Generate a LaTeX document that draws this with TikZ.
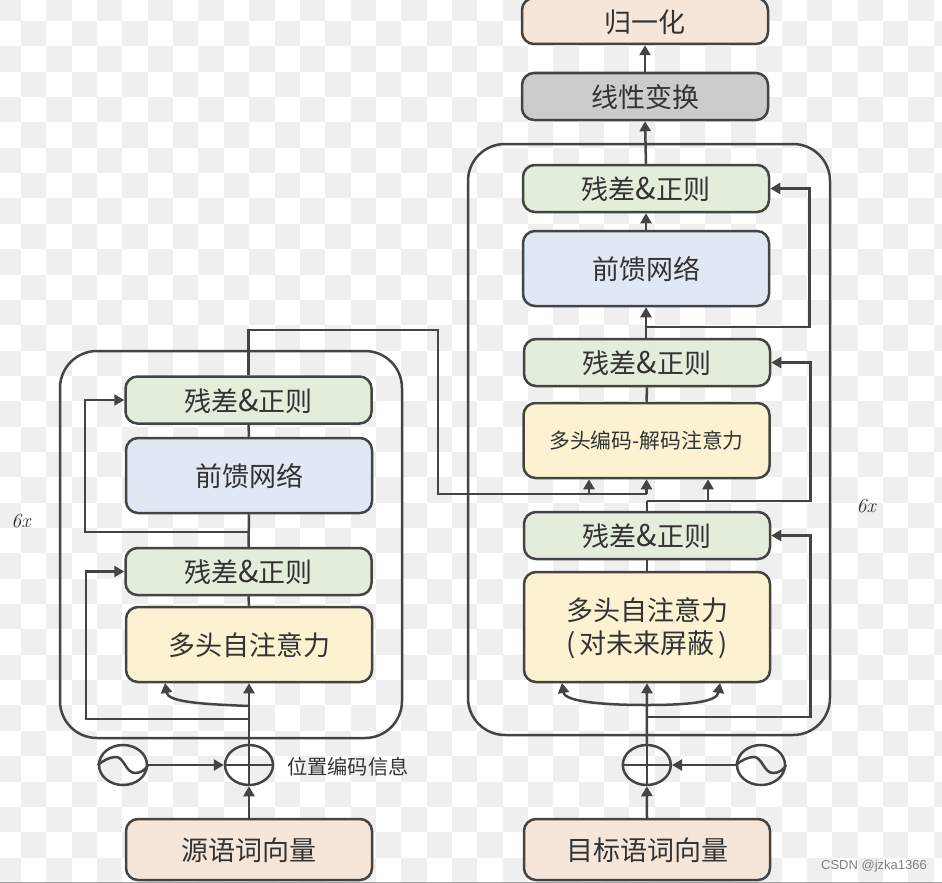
\documentclass[tikz,border=0pt]{standalone}
\usepackage{fontspec}
\usepackage{color}
\usetikzlibrary{shapes.geometric, arrows.meta}
\newfontfamily\cjkfont{Noto Sans CJK SC}
\newfontfamily\markfont{Liberation Sans}
\definecolor{linegray}{HTML}{444444}
\definecolor{textgray}{HTML}{333333}
\definecolor{checkgray}{HTML}{EFEFEF}
\definecolor{resgreen}{HTML}{E2EDDB}
\definecolor{ffnblue}{HTML}{DFE8F3}
\definecolor{attnyellow}{HTML}{FBF2D1}
\definecolor{inpeach}{HTML}{F6E6DA}
\definecolor{lingray}{HTML}{CCCCCC}
\newcommand{\lowtext}[1]{\raisebox{-1pt}[\height][\depth]{#1}}
\newcommand{\restext}{\lowtext{残差{\fontsize{30}{33}\selectfont\&}正则}}
\begin{document}
\begin{tikzpicture}[x=1pt, y=-1pt,
    block/.style={draw=linegray, line width=2.5pt, rounded corners=12pt, minimum width=246pt,
        inner sep=0pt, text=textgray, align=center, font=\fontsize{27}{33}\selectfont\cjkfont},
    resblock/.style={block, fill=resgreen, minimum height=47pt},
    ffnblock/.style={block, fill=ffnblue, minimum height=75pt},
    attnblock/.style={block, fill=attnyellow, minimum height=75pt},
    inblock/.style={block, fill=inpeach, minimum height=61pt},
    linblock/.style={block, fill=lingray, minimum height=47pt},
    stack/.style={draw=linegray, line width=2.5pt, rounded corners=37pt},
    roundsym/.style={draw=linegray, line width=2.5pt, ellipse, minimum width=48pt, minimum height=40pt, inner sep=0pt},
    conn/.style={draw=linegray, line width=2.5pt},
    tip/.style={conn, -{Triangle[length=10pt, width=11pt]}},
    sixlabel/.style={font=\itshape\fontsize{20}{24}\selectfont, text=textgray, inner sep=0pt}]
\useasboundingbox (0,0) rectangle (942,883);

% checker background
\begin{scope}
\clip (0,0) rectangle (942,883);
\foreach \i in {0,...,37}{
    \foreach \j in {0,...,35}{
        \pgfmathtruncatemacro\chk{mod(\i+\j,2)}
        \ifnum\chk=0
            \fill[checkgray] ({-4.35+25.35*\i},{-4.35+25.35*\j}) rectangle +(25.35,25.35);
        \fi
    }
}
\fill[gray!70] (0,881.6) rectangle (942,883);
\end{scope}

% encoder
\draw[stack] (60,351) rectangle (402,738);
\node[resblock] (resLa) at (248.5,400) {\restext};
\node[ffnblock] (ffnL) at (249,475.5) {\lowtext{前馈网络}};
\node[resblock] (resLb) at (248.5,571.5) {\restext};
\node[attnblock] (attnL) at (249,644.5) {\lowtext{多头自注意力}};
\node[inblock] (srcL) at (249,849.5) {\lowtext{源语词向量}};
\node[roundsym] (oscL) at (123,765) {};
\node[roundsym] (plusL) at (249,765) {};
\node[text=textgray, font=\fontsize{20.2}{24}\selectfont\cjkfont, anchor=west, inner sep=0pt] (posL) at (287,767) {位置编码信息};
\node[sixlabel] (sixL) at (21,521) {6x};

% decoder
\draw[stack] (468,144) rectangle (830,735);
\node[inblock, minimum height=46pt] (normR) at (645,21) {\lowtext{归一化}};
\node[linblock] (linR) at (645,96.5) {\lowtext{线性变换}};
\node[resblock] (resRa) at (646,188.5) {\restext};
\node[ffnblock] (ffnR) at (646,268.5) {\lowtext{前馈网络}};
\node[resblock] (resRb) at (647,362.5) {\restext};
\node[attnblock] (attnR) at (646.5,440.5) {\fontsize{20.8}{24}\selectfont 多头编码-解码注意力};
\node[resblock] (resRc) at (647,535.5) {\restext};
\node[attnblock, minimum height=110pt] (maskR) at (647,627) {\lowtext{多头自注意力}\\\lowtext{(\hspace{4pt}对未来屏蔽\hspace{4pt})}};
\node[inblock] (tgtR) at (647,849.5) {\lowtext{目标语词向量}};
\node[roundsym] (plusR) at (646.8,765) {};
\node[roundsym] (oscR) at (761,765) {};
\node[sixlabel] (sixR) at (866,506) {6x};

\node[text=gray, font=\fontsize{13}{16}\selectfont\markfont, anchor=east, inner sep=0pt] (markR) at (927,866) {CSDN @jzka1366};

% sum and wave symbols
\draw[conn] (plusL.west) -- (plusL.east);
\draw[conn] (plusL.north) -- (plusL.south);
\draw[conn] (plusR.west) -- (plusR.east);
\draw[conn] (plusR.north) -- (plusR.south);
\draw[conn] (oscL.west) .. controls (104,760) and (110,757) .. (116,757) .. controls (124,757) and (126,773) .. (135,773) .. controls (141,773) and (145,770) .. (oscL.east);
\draw[conn] (oscR.west) .. controls (742,760) and (748,757) .. (754,757) .. controls (762,757) and (764,773) .. (773,773) .. controls (779,773) and (783,770) .. (oscR.east);

% encoder connectors
\coordinate (loopLa) at (248.5,532);
\coordinate (loopLb) at (248.5,719);
\coordinate (curveL) at (248.5,706);
\coordinate (curveLend) at (165,683);
\coordinate (encOut) at (646.5,494);
\coordinate (encOutb) at (589,494);
\draw[tip] (srcL.north) -- (plusL.south);
\draw[tip] (plusL.north) -- (attnL.south);
\draw[tip] (oscL.east) -- (plusL.west);
\draw[conn] (attnL.north) -- (resLb.south);
\draw[conn] (resLb.north) -- (ffnL.south);
\draw[conn] (ffnL.north) -- (resLa.south);
\draw[tip] (loopLb) -| (86,571.5) -- (resLb.west);
\draw[tip] (loopLa) -| (85,400) -- (resLa.west);
\draw[tip] (curveL) .. controls (200,704) and (168,702) .. (curveLend);
\draw[conn] (resLa.north) |- (438,330) -- (438,494) -- (encOut);

% decoder connectors
\coordinate (loopRa) at (646.5,327);
\coordinate (loopRb) at (647,501);
\coordinate (loopRc) at (647,717);
\coordinate (curveR) at (647,705);
\coordinate (curveRa) at (562,683);
\coordinate (curveRb) at (720,683);
\coordinate (crossR) at (708,501);
\draw[tip] (tgtR.north) -- (plusR.south);
\draw[tip] (plusR.north) -- (maskR.south);
\draw[tip] (oscR.west) -- (plusR.east);
\draw[tip] (curveR) .. controls (605,705) and (565,702) .. (curveRa);
\draw[tip] (curveR) .. controls (689,705) and (717,702) .. (curveRb);
\draw[tip] (loopRc) -| (810.5,535.5) -- (resRc.east);
\draw[conn] (maskR.north) -- (resRc.south);
\draw[conn] (resRc.north) -- (loopRb);
\draw[tip] (loopRb) -| (810.5,362.5) -- (resRb.east);
\draw[tip] (crossR) -- (attnR.south -| crossR);
\draw[tip] (encOut) -- (attnR.south -| encOut);
\draw[tip] (encOutb) -- (attnR.south -| encOutb);
\draw[conn] (attnR.north) -- (resRb.south);
\draw[tip] (resRb.north -| ffnR.south) -- (ffnR.south);
\draw[tip] (loopRa) -| (809.5,188.5) -- (resRa.east);
\draw[tip] (ffnR.north) -- (resRa.south);
\draw[tip] (resRa.north) -- (linR.south);
\draw[tip] (linR.north) -- (normR.south);
\end{tikzpicture}
\end{document}
